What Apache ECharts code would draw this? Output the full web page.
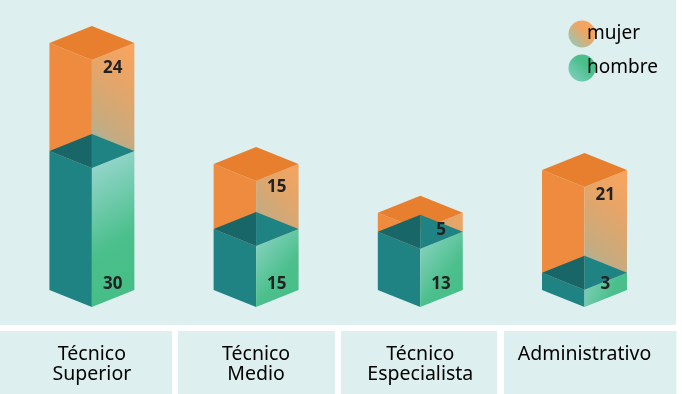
<!DOCTYPE html>
<html>
<head>
<meta charset="utf-8">
<style>
  html, body { margin: 0; padding: 0; background: #fff; }
  #grafico { width: 682px; height: 394px; }
</style>
<script src="https://cdn.jsdelivr.net/npm/echarts@6/dist/echarts.min.js"></script>
</head>
<body>
<div id="grafico"></div>
<script>
var categorias = ['Técnico\nSuperior', 'Técnico\nMedio', 'Técnico\nEspecialista', 'Administrativo'];

// numeros impresos en el grafico
var etiquetasHombre = [30, 15, 13, 3];
var etiquetasMujer = [24, 15, 5, 21];

// alturas dibujadas (no son proporcionales a los numeros impresos)
var alturasHombre = [29.9, 13.1, 12.5, 3.7];
var alturasMujer = [23.2, 14, 4.1, 22.1];

var fuente = '"Noto Sans", sans-serif';
var fondo = '#ddefee';

var naranja = { izq: '#ef8b3e', arriba: '#e87f2f' };
var verde = { izq: '#1f8283', interior: '#196668' };

function degradadoMujer() {
    return new echarts.graphic.LinearGradient(1.6, 0, -0.6, 1, [
        { offset: 0, color: '#ffa45c' },
        { offset: 0.1, color: '#fba45c' },
        { offset: 0.35, color: '#e6a568' },
        { offset: 0.65, color: '#c5ab80' },
        { offset: 0.75, color: '#a5b59e' },
        { offset: 1, color: '#7ccabe' }
    ]);
}

function degradadoHombre() {
    return new echarts.graphic.LinearGradient(-0.6, 0, 1.6, 1, [
        { offset: 0, color: '#a0d8cf' },
        { offset: 0.15, color: '#93d5ca' },
        { offset: 0.57, color: '#4bbf8c' },
        { offset: 1, color: '#43bd82' }
    ]);
}

function poligono(puntos, relleno) {
    return { type: 'polygon', shape: { points: puntos }, style: { fill: relleno } };
}

function etiqueta(texto, x, y) {
    return {
        type: 'text',
        z2: 10,
        style: {
            text: String(texto),
            x: x,
            y: y,
            align: 'center',
            verticalAlign: 'middle',
            fill: '#222',
            font: 'bold 17px ' + fuente
        }
    };
}

// caja isometrica: x, base, tope, etiqueta
function dibujarCaja(esHombre) {
    return function (params, api) {
        var abajo = api.coord([api.value(0), api.value(1)]);
        var arriba = api.coord([api.value(0), api.value(2)]);
        var c = abajo[0];
        var b = abajo[1];
        var t = arriba[1];
        var hw = api.size([1, 0])[0] * 0.2587;
        var d = hw * 0.4;
        var hijos = [
            poligono([[c - hw, b - d], [c, b], [c, t], [c - hw, t - d]], esHombre ? verde.izq : naranja.izq),
            poligono([[c, b], [c + hw, b - d], [c + hw, t - d], [c, t]], esHombre ? degradadoHombre() : degradadoMujer())
        ];
        var yTexto;
        if (esHombre) {
            // el interior se ve como una caja abierta
            hijos.push(poligono([[c - hw, t - d], [c, t - 2 * d], [c, t]], verde.interior));
            hijos.push(poligono([[c, t - 2 * d], [c + hw, t - d], [c, t]], verde.izq));
            yTexto = b - 23;
        } else {
            hijos.push(poligono([[c - hw, t - d], [c, t - 2 * d], [c + hw, t - d], [c, t]], naranja.arriba));
            yTexto = t + Math.min(8, (b - t) * 0.13 - 2.5);
        }
        hijos.push(etiqueta(api.value(3), c + hw / 2 - 0.5, yTexto));
        return { type: 'group', children: hijos };
    };
}

var datosHombre = categorias.map(function (cat, i) {
    return [i, 0, alturasHombre[i], etiquetasHombre[i]];
});
var datosMujer = categorias.map(function (cat, i) {
    return [i, alturasHombre[i], alturasHombre[i] + alturasMujer[i], etiquetasMujer[i]];
});

var myChart = echarts.init(document.getElementById('grafico'), null, { renderer: 'canvas' });

function panel(x, y, w, h) {
    return { type: 'rect', z: -10, silent: true, shape: { x: x, y: y, width: w, height: h }, style: { fill: fondo } };
}

myChart.setOption({
    animation: false,
    graphic: [
        panel(0, 0, 676, 325),
        panel(0, 331, 172, 63),
        panel(178, 331, 157, 63),
        panel(341, 331, 156, 63),
        panel(504, 331, 172.5, 63)
    ],
    legend: {
        orient: 'vertical',
        left: 568.5,
        top: 20.5,
        itemWidth: 27,
        itemHeight: 27,
        itemGap: 7,
        padding: 0,
        selectedMode: false,
        textStyle: {
            fontFamily: fuente,
            fontSize: 19,
            color: '#000',
            padding: [4, 0, 0, -13.5]
        },
        data: [
            {
                name: 'mujer',
                icon: 'circle',
                itemStyle: {
                    color: new echarts.graphic.LinearGradient(1, 0, 0, 1, [
                        { offset: 0, color: '#ffa45c' },
                        { offset: 0.4, color: '#f0a562' },
                        { offset: 1, color: '#86cdc4' }
                    ])
                }
            },
            {
                name: 'hombre',
                icon: 'circle',
                itemStyle: {
                    color: new echarts.graphic.LinearGradient(1, 0, 0, 1, [
                        { offset: 0, color: '#43bd82' },
                        { offset: 0.4, color: '#4bbf8c' },
                        { offset: 1, color: '#86d2c6' }
                    ])
                }
            }
        ]
    },
    grid: { left: 9.8, top: 0, width: 656.8, height: 307 },
    xAxis: {
        type: 'category',
        data: categorias,
        axisLine: { show: false },
        axisTick: { show: false },
        axisLabel: {
            interval: 0,
            margin: 37,
            verticalAlign: 'top',
            lineHeight: 20,
            fontFamily: fuente,
            fontSize: 19.5,
            color: '#000'
        }
    },
    yAxis: { type: 'value', min: 0, max: 66, show: false },
    series: [
        {
            name: 'mujer',
            type: 'custom',
            renderItem: dibujarCaja(false),
            clip: false,
            encode: { x: 0, y: 2 },
            data: datosMujer
        },
        {
            name: 'hombre',
            type: 'custom',
            renderItem: dibujarCaja(true),
            clip: false,
            encode: { x: 0, y: 2 },
            data: datosHombre
        }
    ]
});
</script>
</body>
</html>
